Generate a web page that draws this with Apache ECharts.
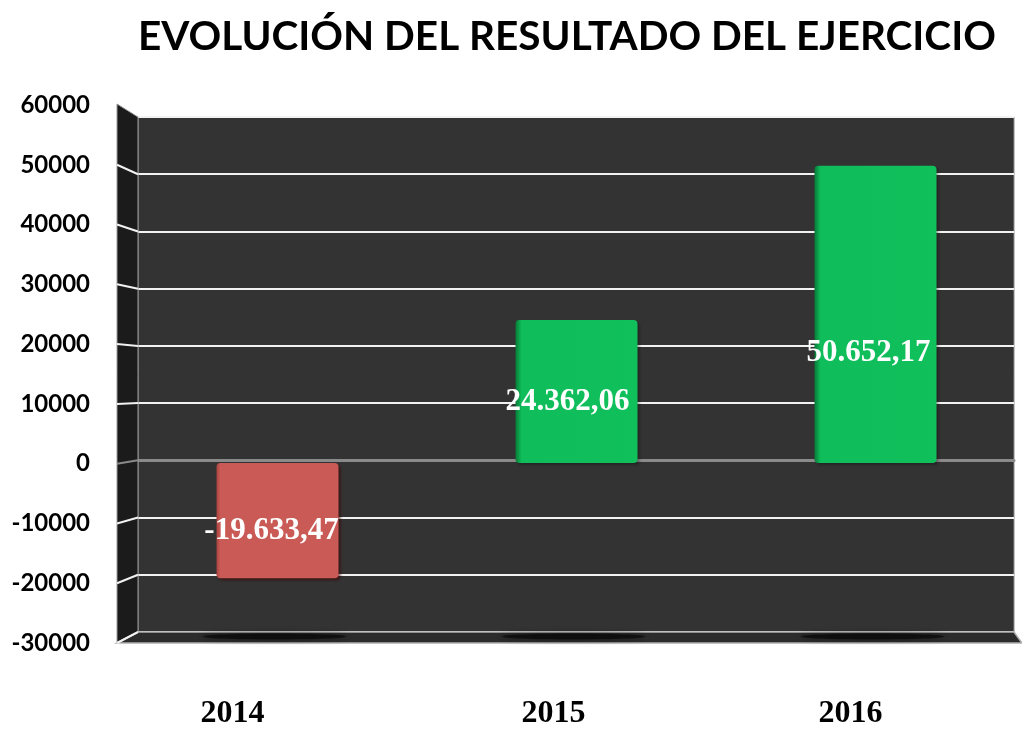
<!DOCTYPE html>
<html>
<head>
<meta charset="utf-8">
<title>Evolución del resultado del ejercicio</title>
<script src="https://cdn.jsdelivr.net/npm/echarts@6/dist/echarts.min.js"></script>
<style>
html, body { margin: 0; padding: 0; background: #fff; }
#chart { width: 1022px; height: 729px; }
</style>
</head>
<body>
<div id="chart"></div>
<script>
// datos
var years = ['2014', '2015', '2016'];
var resultados = [-19633.47, 24362.06, 50652.17];
var yMin = -30000, yMax = 60000, yStep = 10000;

function fmtEs(v) {
    var neg = v < 0;
    var parts = Math.abs(v).toFixed(2).split('.');
    var ent = parts[0].replace(/\B(?=(\d{3})+(?!\d))/g, '.');
    return (neg ? '-' : '') + ent + ',' + parts[1];
}

var chart = echarts.init(document.getElementById('chart'));

// desplazamiento de las etiquetas (como en Excel)
var labelOffsets = [[-6, 10], [-9, 10], [-7, 39]];

var barData = resultados.map(function (v, i) {
    var colorStops = v < 0
        ? [{ offset: 0, color: '#a8443f' }, { offset: 0.03, color: '#c95a55' }, { offset: 1, color: '#c95a55' }]
        : [{ offset: 0, color: '#087a38' }, { offset: 0.05, color: '#0fbd5a' }, { offset: 1, color: '#10c05b' }];
    return {
        value: v,
        itemStyle: {
            color: { type: 'linear', x: 0, y: 0, x2: 1, y2: 0, colorStops: colorStops },
            shadowColor: v < 0 ? 'rgba(60,0,0,0.6)' : 'rgba(0,0,0,0.3)',
            shadowBlur: 3,
            shadowOffsetX: 2,
            shadowOffsetY: 2
        },
        label: { offset: labelOffsets[i] }
    };
});

var yearFont = { fontFamily: 'Liberation Serif', fontWeight: 'bold', fontSize: 32, color: '#000' };

var option = {
    animation: false,
    backgroundColor: '#fff',
    title: {
        text: 'EVOLUCIÓN DEL RESULTADO DEL EJERCICIO',
        left: 133,
        top: 11,
        textStyle: { fontFamily: 'Lato', fontWeight: 'bold', fontSize: 40.5, color: '#000' }
    },
    grid: [
        // frente: etiquetas de los ejes
        { left: 78, width: 927, top: 105, bottom: 86, outerBoundsMode: 'none', containLabel: false },
        // pared del fondo
        { left: 138, right: 8, top: 117, bottom: 97, outerBoundsMode: 'none', show: true, backgroundColor: '#333333', borderColor: '#8c8c8c', borderWidth: 1 },
        // barras
        { left: 128, width: 897, top: 111, bottom: 90, outerBoundsMode: 'none' }
    ],
    xAxis: [
        {
            gridIndex: 0, type: 'category', data: years,
            axisLine: { show: false }, axisTick: { show: false },
            axisLabel: {
                margin: 55,
                formatter: function (v, i) { return i === 1 ? '{s|' + v + '}' : '{n|' + v + '}'; },
                rich: {
                    n: yearFont,
                    s: Object.assign({ padding: [0, 0, 0, 24] }, yearFont)
                }
            }
        },
        {
            gridIndex: 1, type: 'category', data: years,
            axisLine: { onZero: true, lineStyle: { color: '#8a8a8a', width: 3 } },
            axisTick: { show: false }, axisLabel: { show: false }
        },
        {
            gridIndex: 2, type: 'category', data: years,
            axisLine: { show: false }, axisTick: { show: false }, axisLabel: { show: false }
        }
    ],
    yAxis: [
        {
            gridIndex: 0, type: 'value', min: yMin, max: yMax, interval: yStep, offset: -39,
            axisLine: { show: false }, axisTick: { show: false }, splitLine: { show: false },
            axisLabel: {
                margin: 27, fontFamily: 'Lato', fontWeight: 'bold', fontSize: 24, color: '#000',
                formatter: function (v) { return String(v); }
            }
        },
        {
            gridIndex: 1, type: 'value', min: yMin, max: yMax, interval: yStep,
            axisLine: { show: false }, axisTick: { show: false }, axisLabel: { show: false },
            splitLine: { lineStyle: { color: '#f2f2f2', width: 2 } }
        },
        {
            gridIndex: 2, type: 'value', min: yMin, max: yMax, interval: yStep,
            axisLine: { show: false }, axisTick: { show: false }, axisLabel: { show: false },
            splitLine: { show: false }
        }
    ],
    series: [{
        type: 'bar',
        xAxisIndex: 2,
        yAxisIndex: 2,
        barWidth: 122,
        z: 5,
        data: barData,
        itemStyle: { borderRadius: 4 },
        label: {
            show: true,
            position: 'inside',
            formatter: function (p) { return fmtEs(p.value); },
            fontFamily: 'Liberation Serif',
            fontWeight: 'bold',
            fontSize: 31,
            color: '#fff'
        }
    }]
};
chart.setOption(option);

// pared izquierda, suelo y sombras a partir de las escalas
var xFront = 117, xBack = 138;
var graphics = [];
function yF(v) { return chart.convertToPixel({ yAxisIndex: 0 }, v); }
function yB(v) { return chart.convertToPixel({ yAxisIndex: 1 }, v); }

graphics.push({
    type: 'polygon', z: 1,
    shape: { points: [[xFront, yF(yMax) - 1], [xBack, yB(yMax)], [xBack, yB(yMin)], [xFront, yF(yMin)]] },
    style: { fill: '#1b1b1b', stroke: '#9a9a9a', lineWidth: 1 }
});
for (var v = yMin; v <= yMax; v += yStep) {
    if (v === yMax) continue;
    graphics.push({
        type: 'line', z: 2,
        shape: { x1: xFront, y1: yF(v), x2: xBack, y2: yB(v) },
        style: { stroke: v === 0 ? '#8a8a8a' : '#f2f2f2', lineWidth: 2 }
    });
}
// suelo
var rightBack = 1014, rightFront = 1022;
graphics.push({
    type: 'polygon', z: 1,
    shape: { points: [[xFront, yF(yMin)], [xBack, yB(yMin)], [rightBack, yB(yMin)], [rightFront, yF(yMin)]] },
    style: { fill: '#2c2c2c', stroke: '#b0b0b0', lineWidth: 1.5 }
});
// sombras bajo las barras
years.forEach(function (y, i) {
    var px = chart.convertToPixel({ seriesIndex: 0 }, [i, yMin]);
    graphics.push({
        type: 'ellipse', z: 2,
        shape: { cx: px[0] - 3, cy: (yB(yMin) + yF(yMin)) / 2 - 1, rx: 72, ry: 3 },
        style: { fill: 'rgba(0,0,0,0.55)', shadowBlur: 6, shadowColor: 'rgba(0,0,0,0.8)' }
    });
});
chart.setOption({ graphic: graphics });
</script>
</body>
</html>
